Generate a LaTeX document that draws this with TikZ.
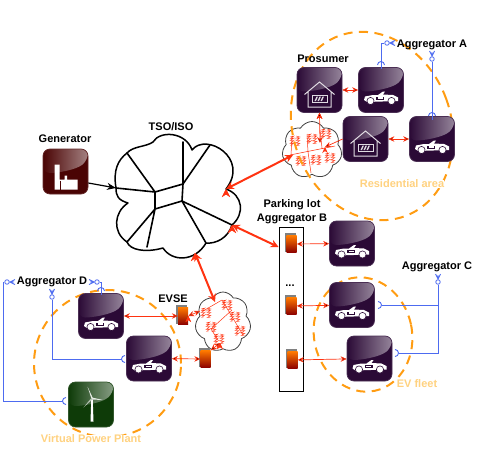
\documentclass[tikz,border=0pt]{standalone}
\usepackage{fontspec}
\setmainfont{Liberation Sans}
\usetikzlibrary{arrows.meta, shapes.geometric, shapes.symbols}
\definecolor{plum}{HTML}{2B0A36}
\definecolor{pine}{HTML}{0E3B08}
\definecolor{brick}{HTML}{4A0404}
\definecolor{wire}{HTML}{4D6BF0}
\definecolor{alarm}{HTML}{FF3311}
\definecolor{dashline}{HTML}{FF9C12}
\definecolor{zonetext}{HTML}{FFD280}
\newcommand{\labelfont}{\fontsize{11}{13}\selectfont\bfseries}
\tikzset{
  tile/.style={shape=rectangle, rounded corners=7pt, minimum size=45pt, inner sep=0pt,
    fill=#1, draw=#1!85!white, line width=0.7pt,
    path picture={\shade[left color=#1, right color=white!50!#1]
      (path picture bounding box.north west) -- (path picture bounding box.north east)
      -- ([yshift=-11pt]path picture bounding box.north east)
      .. controls +(-12pt,-10pt) and +(14pt,0pt) .. ([yshift=-24pt]path picture bounding box.north west) -- cycle;}},
  charger/.style={shape=rectangle, minimum width=10pt, minimum height=17pt, inner sep=0pt,
    top color=orange!95!red, bottom color=red!55!black},
  chargerback/.style={shape=rectangle, minimum width=11pt, minimum height=19pt, inner sep=0pt, fill=black!50},
  zone/.style={shape=ellipse, draw=dashline, line width=2pt, dash pattern=on 9pt off 6.5pt, inner sep=0pt},
  title/.style={font=\labelfont, inner sep=0pt},
  zonelabel/.style={font=\labelfont, text=zonetext, fill=white, inner sep=0pt},
  grid/.style={line width=1.6pt, line cap=round},
  wireline/.style={draw=wire, line width=0.9pt},
  junction/.style={shape=circle, draw=wire, fill=white, line width=0.8pt, minimum size=4.5pt, inner sep=0pt},
  thin link/.style={draw=alarm, line width=0.7pt, {Stealth[length=6pt,width=5.5pt]}-{Stealth[length=6pt,width=5.5pt]}},
  thick link/.style={draw=alarm, line width=2pt, {Stealth[length=8pt,width=8pt]}-{Stealth[length=8pt,width=8pt]}},
  local net/.style={draw=alarm, line width=0.5pt},
  small cloud/.style={shape=cloud, cloud puffs=7, cloud puff arc=120, aspect=1, draw=black!75, fill=white, line width=0.8pt, inner sep=0pt},
  carmark/.pic={
    \fill[white] (-17,10) -- (-16,6.5) -- (-8,5) -- (-3,5) -- (2,1.5) -- (4,1.5) -- (2,4.5) -- (12,5)
      -- (17,7.5) -- (17,11) -- (-14,12) -- cycle;
    \fill[plum] (-5,6.5) rectangle (3,9.5);
    \fill[white] (-3.5,7.3) rectangle (1.5,8.7);
    \fill[white, draw=plum, line width=0.6pt] (-10.5,11) circle (3.6) (10.5,11) circle (3.6);
  },
  housemark/.pic={
    \draw[white!85!plum, line width=1pt, line join=miter] (-15,4.5) -- (0,-8) -- (15,4.5)
      (-11.5,2) -- (-11.5,17) -- (11.5,17) -- (11.5,2);
    \draw[white!85!plum, line width=0.8pt] (-7.5,5.5) rectangle (8,12);
    \foreach \s in {-3,0,3}
      \fill[white!85!plum] (\s-2,11) -- (\s,6.5) -- (\s+1.5,6.5) -- (\s-0.5,11) -- cycle;
  },
  turbinemark/.pic={
    \fill[white] (0.3,-6) -- (1.7,-6) -- (2.5,17) -- (-0.5,17) -- cycle;
    \fill[white!90!pine] (0.2,-6.5) -- (-3.5,-18) -- (1.8,-6.5) -- cycle;
    \fill[white!90!pine] (1,-7) -- (12,-4.5) -- (1,-5) -- cycle;
    \fill[white!70!pine] (0.4,-6.5) -- (-7.5,3) -- (1.5,-5.2) -- cycle;
  },
  factorymark/.pic={
    \fill[white] (-11,-7) -- (-6,-7) -- (-6,8) -- (-1,8) -- (-1,4) -- (1.5,4) -- (1.5,8) -- (12,8)
      -- (12,18) -- (-11,18) -- cycle;
    \draw[brick, line width=0.5pt] (-5,9) -- (-5,18);
  },
  socket/.pic={\draw[wireline] (-3.5,0) arc (180:360:3.5);},
  forkmark/.pic={\draw[wireline] (-2.5,-3) -- (0,2) -- (2.5,-3) (0,2) -- (0,-2);},
  hubmark/.pic={
    \draw[alarm, line width=0.35pt] (-5,-4) -- (-1,-5) -- (-4.5,-2.5) -- (-1,-3) -- (-5,-0.5) -- (-1,-0.5)
      -- (-5,2.5) -- (-1,2) -- (-4.5,4.5) (-3,-5) -- (-3,5)
      (1,-5) -- (5,-4) -- (1,-3) -- (4.5,-2.5) -- (1,-0.5) -- (5,-0.5) -- (1,2) -- (5,2.5) -- (1,4.5) -- (4.5,4.5)
      (3,-5) -- (3,5) (-1,-2) -- (1,-2) (-1,1.5) -- (1,1.5);
  },
}
\newcommand{\evse}[2]{%
  \node[chargerback] at ([xshift=-0.8pt,yshift=0.8pt]#2) {};
  \node[charger] (#1) at ([xshift=0.6pt,yshift=-1pt]#2) {};
}
\begin{document}
\begin{tikzpicture}[x=1pt, y=-1pt]
  \useasboundingbox (0,0) rectangle (490,471);

  % transmission cloud
  \coordinate (c1) at (127,153);
  \coordinate (c2) at (153,142);
  \coordinate (c3) at (192,150);
  \coordinate (c4) at (226,189);
  \coordinate (c5) at (232,225);
  \coordinate (c6) at (206,243);
  \coordinate (c7) at (163,248);
  \coordinate (c8) at (127,242);
  \coordinate (c9) at (128,203);
  \coordinate (c10) at (116,188);
  \draw[line width=1.5pt, line join=round] (c1) .. controls (133,146) and (146,147) .. (c2)
    .. controls (160,130) and (186,132) .. (c3)
    .. controls (206,132) and (250,158) .. (c4)
    .. controls (243,195) and (245,214) .. (c5)
    .. controls (228,238) and (216,244) .. (c6)
    .. controls (195,262) and (172,262) .. (c7)
    .. controls (145,253) and (130,250) .. (c8)
    .. controls (112,232) and (114,212) .. (c9)
    .. controls (118,200) and (116,196) .. (c10)
    .. controls (113,170) and (118,160) .. (c1);
  \coordinate (g1) at (155,192);
  \coordinate (g2) at (183,184);
  \coordinate (g3) at (182,201);
  \coordinate (g4) at (155,209);
  \coordinate (g5) at (183,142);
  \coordinate (g6) at (210,145);
  \coordinate (g7) at (147,247);
  \draw[grid] (c1) -- (g1) (c10) -- (g1) -- (g2) -- (g5) (g6) -- (g2) -- (g3) -- (g4) -- (g1)
    (g3) -- (c5) (g3) -- (c6) (g4) -- (c8) (g4) -- (g7);
  \node[title] (TSO) at (171,127) {TSO/ISO};

  % generator
  \node[tile=brick] (GEN) at (65.5,171.5) {};
  \pic at (GEN.center) {factorymark};
  \node[title] (GENT) at (65,139) {Generator};
  \draw[line width=1.2pt, -{Stealth[length=9pt,width=7pt]}] (GEN.east |- 0,183) -- (c10);

  % local networks
  \node[small cloud, minimum width=60pt, minimum height=57pt] (NA) at (312,150) {};
  \node[small cloud, minimum width=56pt, minimum height=60pt] (NE) at (223,322) {};
  \coordinate (a1) at (290,155);
  \coordinate (a2) at (335,146);
  \coordinate (a3) at (292,137);
  \coordinate (a4) at (291,155);
  \coordinate (a5) at (307,134);
  \coordinate (a6) at (308,152);
  \coordinate (a7) at (311,173);
  \coordinate (a8) at (320,130);
  \coordinate (a9) at (322,148);
  \draw[local net] (a1) -- (a2) (a3) -- (a4) (a5) -- (a6) -- (a7) (a8) -- (a9);
  \coordinate (e1) at (203,311);
  \coordinate (e2) at (222,300);
  \coordinate (e3) at (243,335);
  \coordinate (e4) at (232,310);
  \coordinate (e5) at (211,329);
  \coordinate (e6) at (218,340);
  \draw[local net] (e1) -- (e2) (e4) -- (e5) -- (e6) (e2) -- (e3);
  \foreach \x/\y in {295/141, 312/139, 326/134, 301/161, 316/160, 330/158}
    \pic at (\x,\y) {hubmark};
  \foreach \x/\y in {206/313, 227/305, 211/327, 235/317, 219/339, 240/331}
    \pic at (\x,\y) {hubmark};

  % dashed zones
  \node[zone, rotate=20, minimum width=158pt, minimum height=192pt] (ZA) at (372,126) {};
  \node[zone, minimum width=147pt, minimum height=147pt] (ZD) at (107.5,363.5) {};
  \node[zone, rotate=12, minimum width=98pt, minimum height=115pt] (ZC) at (363,334.5) {};

  % residential area
  \node[tile=plum] (HA) at (319.5,90) {};
  \pic at (HA.center) {housemark};
  \node[tile=plum] (CA) at (381,90) {};
  \pic at (CA.center) {carmark};
  \node[tile=plum] (HB) at (365.5,139) {};
  \pic at (HB.center) {housemark};
  \node[tile=plum] (CB) at (432,139) {};
  \pic at (CB.center) {carmark};
  \node[title] (PRO) at (323,59) {Prosumer};
  \node[zonelabel] (ZAT) at (402,184) {Residential area};
  \path[thin link] (HA) edge (CA);
  \path[thin link] (HB) edge (CB);
  \coordinate (na) at (320,143);
  \coordinate (nb) at (325,147);
  \path[thin link] (HA.south) edge (na);
  \path[thin link, {Stealth[length=6pt,width=5.5pt]}-] (nb) edge (HB.west);

  % parking lot
  \node[draw=black, line width=0.9pt, minimum width=24pt, minimum height=164pt, inner sep=0pt] (LOT) at (291,309) {};
  \node[title, align=center] (LOTT) at (292,211.5) {Parking lot\\[0.5pt]Aggregator B};
  \node[font=\labelfont, inner sep=0pt] (DOTS) at (290,286) {...};
  \evse{EA}{291,243}
  \evse{EB}{291,305}
  \evse{EC}{292,359}
  \node[tile=plum] (CC) at (352,243.5) {};
  \pic at (CC.center) {carmark};
  \node[tile=plum] (CD) at (352,305) {};
  \pic at (CD.center) {carmark};
  \node[tile=plum] (CE) at (369.5,358.5) {};
  \pic at (CE.center) {carmark};
  \path[thin link] (EA) edge (CC);
  \path[thin link] (EB) edge (CD);
  \path[thin link] (EC) edge (CE);
  \node[zonelabel] (ZCT) at (417,384) {EV fleet};

  % virtual power plant
  \node[tile=plum] (CF) at (101,316) {};
  \pic at (CF.center) {carmark};
  \node[tile=plum] (CG) at (149,358.5) {};
  \pic at (CG.center) {carmark};
  \node[tile=pine] (WT) at (91,404.5) {};
  \pic at (WT.center) {turbinemark};
  \evse{EF}{182.5,315}
  \evse{EG}{205,358}
  \node[title] (EVT) at (173,299) {EVSE};
  \node[zonelabel] (ZDT) at (91,439) {Virtual Power Plant};
  \path[thin link] (CF) edge (EF);
  \path[thin link] (CG) edge (EG);
  \coordinate (nc) at (200,311);
  \coordinate (nd) at (220,343);
  \path[thin link] (EF.east) edge (nc);
  \path[thin link] (nd) edge (EG.north east);

  % main links
  \coordinate (pa) at (293,155);
  \coordinate (pb) at (215,302);
  \coordinate (ta) at (195,253);
  \path[thick link] (c4) edge (pa);
  \path[thick link] (c5) edge (LOT.north west |- 0,247);
  \path[thick link] (ta) edge (pb);

  % aggregators
  \node[title] (AGA) at (432,44.5) {Aggregator A};
  \node[title] (AGC) at (437,267) {Aggregator C};
  \node[title] (AGD) at (52,282) {Aggregator D};
  \node[junction] (JA) at (387,43) {};
  \node[junction] (JB) at (432,59) {};
  \node[junction] (JC) at (438,282) {};
  \node[junction] (JD) at (7,282) {};
  \node[junction] (JE) at (52,297) {};
  \node[junction] (JF) at (97,282) {};
  \coordinate (SA) at (381,65);
  \coordinate (SB) at (432,116);
  \coordinate (SC) at (378,305);
  \coordinate (SD) at (395,353);
  \coordinate (SE) at (66,401);
  \coordinate (SF) at (125,359);
  \coordinate (SG) at (101,291);
  \draw[wireline] (JA) -| ([yshift=-3.5pt]SA);
  \draw[wireline] (JB) -- ([yshift=-3.5pt]SB);
  \draw[wireline] (JC) |- ([xshift=3.5pt]SC);
  \draw[wireline] (JC) |- ([xshift=3.5pt]SD);
  \draw[wireline] (JD) -| (3,401) -- ([xshift=-3.5pt]SE);
  \draw[wireline] (JE) |- ([xshift=-3.5pt]SF);
  \draw[wireline] (JF) -| ([yshift=-3.5pt]SG);
  \pic at (SA) {socket};
  \pic at (SB) {socket};
  \pic at (SG) {socket};
  \pic[rotate=-90] at (SC) {socket};
  \pic[rotate=-90] at (SD) {socket};
  \pic[rotate=90] at (SE) {socket};
  \pic[rotate=90] at (SF) {socket};
  \pic at (432,54) {forkmark};
  \pic at (438,277) {forkmark};
  \pic at (52,292) {forkmark};
  \pic[rotate=-90] at (392,43) {forkmark};
  \pic[rotate=-90] at (12,282) {forkmark};
  \pic[rotate=90] at (92,282) {forkmark};
\end{tikzpicture}
\end{document}
